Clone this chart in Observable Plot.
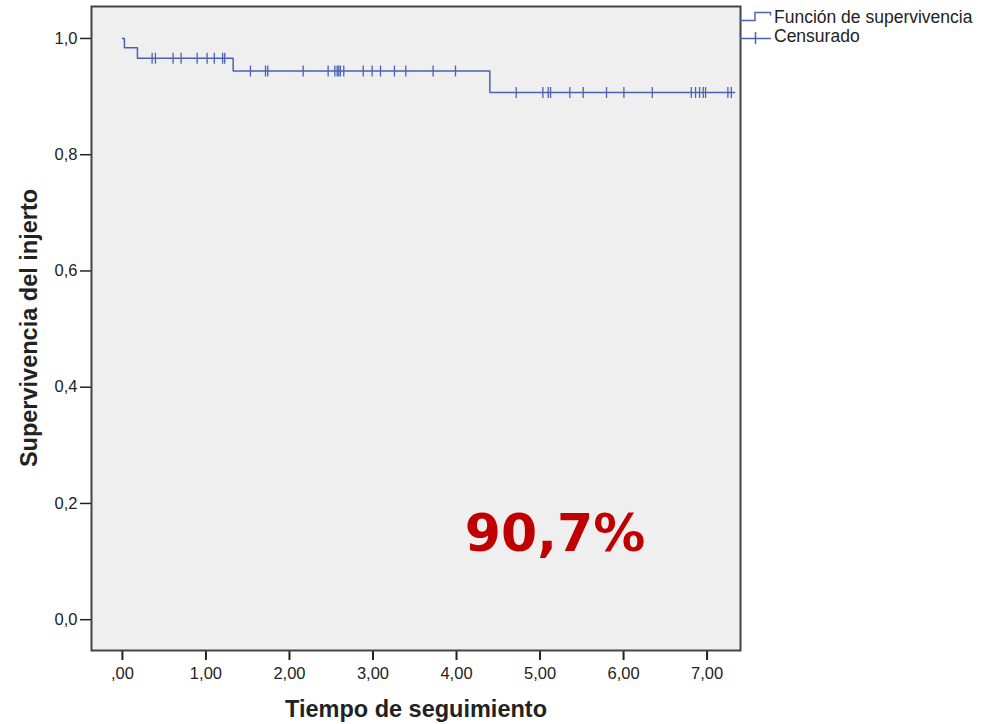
<!DOCTYPE html>
<html>
<head>
<meta charset="utf-8">
<script src="https://cdn.jsdelivr.net/npm/d3@7"></script>
<script src="https://cdn.jsdelivr.net/npm/@observablehq/plot@0.6"></script>
<style>
  html, body { margin: 0; padding: 0; background: #ffffff; }
  #chart { width: 986px; height: 724px; }
</style>
</head>
<body>
<div id="chart"></div>
<script>
// Kaplan-Meier step function: time of each step and survival from that time on
const stepTimes = [0, 0.024, 0.18, 1.326, 4.399, 7.33];
const stepSurv  = [1.0, 0.984, 0.966, 0.944, 0.907, 0.907];

// Censored observations (follow-up times, years)
const censorTimes = [
  0.356, 0.395, 0.607, 0.703, 0.895, 1.014, 1.10, 1.20, 1.225,
  1.533, 1.713, 1.74, 2.164, 2.463, 2.543, 2.571, 2.59, 2.61, 2.65,
  2.883, 2.99, 3.09, 3.257, 3.393, 3.72, 3.988,
  4.715, 5.034, 5.098, 5.126, 5.357, 5.517, 5.796, 6.004, 6.344,
  6.811, 6.862, 6.91, 6.954, 6.982, 7.249, 7.29
];

const xTicks = [0, 1, 2, 3, 4, 5, 6, 7];
const xTickLabels = [",00", "1,00", "2,00", "3,00", "4,00", "5,00", "6,00", "7,00"];
const yTicks = [0, 0.2, 0.4, 0.6, 0.8, 1.0];
const yTickLabels = ["0,0", "0,2", "0,4", "0,6", "0,8", "1,0"];

const annotationText = "90,7%";
const annotationX = 5.18;
const annotationY = 0.147;

const curveColor = "#4a62b4";
const textFont = "'Liberation Sans', Arial, sans-serif";

// survival level at a given time (lookup on the step function)
function survAt(t) {
  let s = stepSurv[0];
  for (let i = 0; i < stepTimes.length; i++) if (stepTimes[i] <= t) s = stepSurv[i];
  return s;
}
const steps = stepTimes.map((t, i) => ({t, s: stepSurv[i]}));
const censors = censorTimes.map(t => ({t, s: survAt(t)}));

const vbar = {
  draw(context, size) {
    const r = 5.5;
    context.moveTo(0, -r);
    context.lineTo(0, r);
  }
};

const chart = Plot.plot({
  width: 986,
  height: 724,
  marginLeft: 91,
  marginRight: 246,
  marginTop: 6,
  marginBottom: 74,
  style: {fontFamily: textFont, fontSize: "16.5px", color: "#222", background: "#ffffff"},
  x: {domain: [-0.37, 7.40], label: null},
  y: {domain: [-0.053, 1.055], label: null},
  marks: [
    Plot.frame({fill: "#efefef", stroke: "none"}),
    Plot.line(steps, {x: "t", y: "s", curve: "step-after", stroke: curveColor, strokeWidth: 1.5}),
    Plot.dot(censors, {x: "t", y: "s", symbol: vbar, r: 5, stroke: curveColor, strokeWidth: 1.3, fill: "none"}),
    Plot.text([annotationText], {x: annotationX, y: annotationY, text: d => d,
      fill: "#c00000", fontSize: 52, fontWeight: "bold", fontFamily: "'DejaVu Sans', sans-serif"}),
    Plot.axisX({ticks: xTicks, tickFormat: d => xTickLabels[xTicks.indexOf(d)], tickSize: 10, tickPadding: 7,
      stroke: "#222", strokeWidth: 2, fontSize: 16.5, label: null}),
    Plot.axisY({ticks: yTicks, tickFormat: d => yTickLabels[yTicks.indexOf(d)], tickSize: 11, tickPadding: 3,
      stroke: "#222", strokeWidth: 1.5, fontSize: 16.5, label: null}),
    Plot.frame({stroke: "#444", strokeWidth: 2})
  ]
});

const svg = d3.select(chart);
// axis titles
svg.append("text")
  .attr("x", 416).attr("y", 717)
  .attr("text-anchor", "middle")
  .attr("font-family", textFont)
  .attr("font-weight", "bold").attr("font-size", 23.5).attr("fill", "#222")
  .text("Tiempo de seguimiento");
svg.append("text")
  .attr("transform", "translate(37,328) rotate(-90)")
  .attr("text-anchor", "middle")
  .attr("font-family", textFont)
  .attr("font-weight", "bold").attr("font-size", 23.5).attr("fill", "#222")
  .text("Supervivencia del injerto");

// legend
const lg = svg.append("g").attr("text-anchor", "start");
lg.append("path").attr("d", "M740,20.5H755V12.5H770.5V15.5").attr("fill", "none")
  .attr("stroke", curveColor).attr("stroke-width", 1.5);
lg.append("path").attr("d", "M740,38.5H771").attr("fill", "none")
  .attr("stroke", curveColor).attr("stroke-width", 1.5);
lg.append("path").attr("d", "M755.5,32V44").attr("fill", "none")
  .attr("stroke", curveColor).attr("stroke-width", 1.5);
lg.append("text").attr("x", 774).attr("y", 22.5).attr("text-anchor", "start").text("Función de supervivencia")
  .attr("font-family", textFont).attr("font-size", 17.5).attr("fill", "#222");
lg.append("text").attr("x", 774).attr("y", 42).attr("text-anchor", "start").text("Censurado")
  .attr("font-family", textFont).attr("font-size", 17.5).attr("fill", "#222");

document.getElementById("chart").appendChild(chart);
</script>
</body>
</html>
